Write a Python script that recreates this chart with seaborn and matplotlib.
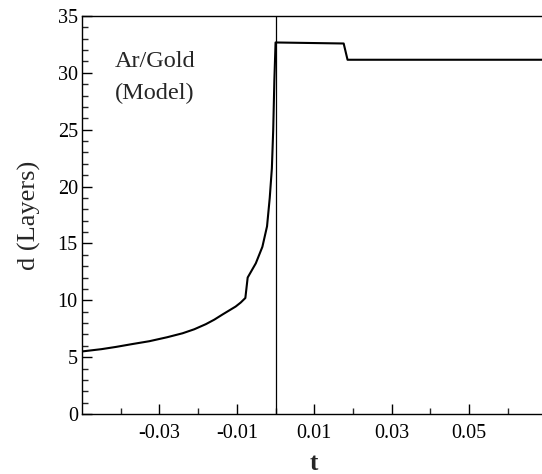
import numpy as np
import pandas as pd
import seaborn as sns
import matplotlib.pyplot as plt
from matplotlib.ticker import MultipleLocator, FixedLocator

# values (vertical jumps kept as repeated steps)
t_vals = [-0.05, -0.045, -0.0412, -0.037, -0.0326, -0.028, -0.024, -0.021,
          -0.018, -0.0158, -0.0137, -0.012, -0.0103, -0.009, -0.0078,
          -0.0072, -0.0051, -0.0034, -0.0022, -0.0015, -0.00095, -0.0006,
          -0.0003, 0.0,
          0.0, 0.0176, 0.0186, 0.07]
d_vals = [5.5, 5.7, 5.9, 6.15, 6.4, 6.75, 7.1, 7.45,
          7.9, 8.3, 8.75, 9.1, 9.45, 9.8, 10.2,
          12.0, 13.25, 14.7, 16.5, 19.0, 21.6, 25.0,
          29.4, 32.6,
          32.67, 32.58, 31.15, 31.15]
x_labels = [-0.03, -0.01, 0.01, 0.03, 0.05]
x_minor = [-0.04, -0.02, 0.0, 0.02, 0.04, 0.06]

df = pd.DataFrame({'t': t_vals, 'd': d_vals})

sns.set_theme(style="ticks")
plt.rcParams['font.family'] = ['Liberation Serif', 'DejaVu Serif']

fig = plt.figure(figsize=(5.42, 4.74), dpi=100)
ax = fig.add_axes([0.1513, 0.1266, 0.857, 0.8397])

sns.lineplot(data=df, x='t', y='d', sort=False, estimator=None, color='black',
             linewidth=1.5, ax=ax)
ax.axvline(0, color='black', linewidth=0.9)

ax.set_xlim(-0.05, 0.07)
ax.set_ylim(0, 35)

ax.xaxis.set_major_locator(FixedLocator(x_labels))
ax.xaxis.set_minor_locator(FixedLocator(x_minor))
ax.set_xticklabels(['%.2f' % v for v in x_labels])
ax.yaxis.set_major_locator(MultipleLocator(5))
ax.yaxis.set_minor_locator(MultipleLocator(1))
ax.tick_params(which='major', direction='in', length=7, width=1, labelsize=14.5, colors='black')
ax.tick_params(which='minor', direction='in', length=4, width=1)
ax.tick_params(axis='x', which='major', pad=7)
ax.tick_params(axis='y', which='major', pad=3)
ax.tick_params(axis='x', which='both', top=False)
ax.tick_params(axis='y', which='both', right=False)

for s in ax.spines.values():
    s.set_color('black')
    s.set_linewidth(1.0)

ax.set_xlabel('t', fontsize=18, fontweight='bold', labelpad=7)
ax.set_ylabel('d (Layers)', fontsize=19, labelpad=12)

ax.text(0.071, 0.872, 'Ar/Gold', transform=ax.transAxes, fontsize=17.5,
        ha='left', va='baseline')
ax.text(0.071, 0.792, '(Model)', transform=ax.transAxes, fontsize=17.5,
        ha='left', va='baseline')

fig.savefig('out.png', dpi=100)
